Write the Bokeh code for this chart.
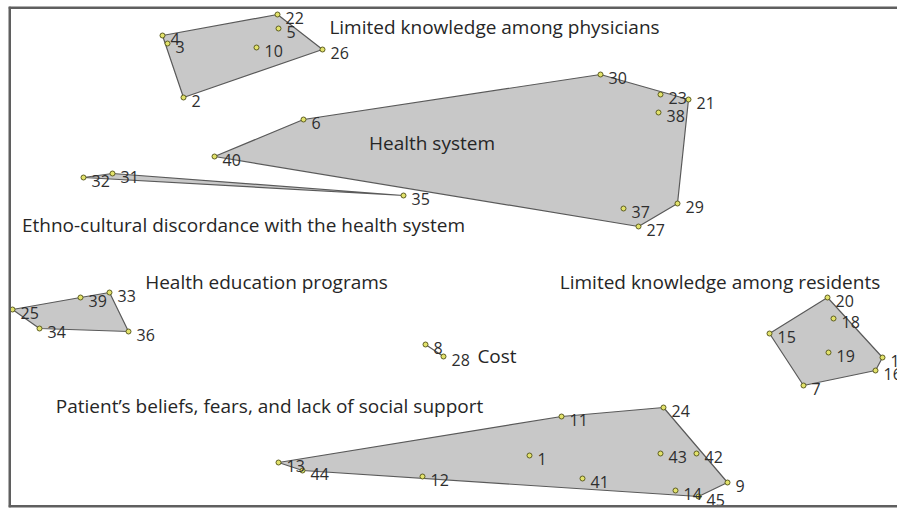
from bokeh.plotting import figure
from bokeh.models import ColumnDataSource, Span, Range1d
from bokeh.core.properties import value
from bokeh.embed import file_html
from bokeh.resources import INLINE

# ---- data: statement ids, map coordinates, cluster membership ----
ids = list(range(1, 46))
xs = [521, 175, 159, 154, 270, 295, 795, 417, 719, 248,
      553, 414, 270, 667, 761, 867, 874, 825, 820, 819,
      680, 269, 652, 655, 4, 314, 630, 435, 669, 592,
      104, 75, 101, 31, 395, 120, 615, 650, 72, 206,
      574, 688, 652, 294, 690]
ys = [53, 411, 465, 473, 480, 389, 123, 164, 26, 461,
      92, 32, 46, 18, 175, 138, 151, 190, 156, 211,
      409, 494, 414, 101, 199, 459, 282, 152, 305, 434,
      335, 331, 216, 180, 313, 177, 300, 396, 211, 352,
      30, 55, 55, 38, 12]

cluster_names = [
    "Limited knowledge among physicians",
    "Health system",
    "Ethno-cultural discordance with the health system",
    "Health education programs",
    "Limited knowledge among residents",
    "Cost",
    "Patient\u2019s beliefs, fears, and lack of social support",
]
cluster_members = [
    [2, 3, 4, 5, 10, 22, 26],
    [6, 21, 23, 27, 29, 30, 37, 38, 40],
    [31, 32, 35],
    [25, 33, 34, 36, 39],
    [7, 15, 16, 17, 18, 19, 20],
    [8, 28],
    [1, 9, 11, 12, 13, 14, 24, 41, 42, 43, 44, 45],
]
# cluster label anchors (centre of the text)
label_x = [486, 423.5, 235, 258, 711.5, 488.5, 261]
label_y = [482, 366, 284, 227, 227, 153, 103]


def hull(pts):
    pts = sorted(set(pts))
    if len(pts) <= 2:
        return pts

    def cross(o, a, b):
        return (a[0] - o[0]) * (b[1] - o[1]) - (a[1] - o[1]) * (b[0] - o[0])

    lower = []
    for p_ in pts:
        while len(lower) >= 2 and cross(lower[-2], lower[-1], p_) <= 0:
            lower.pop()
        lower.append(p_)
    upper = []
    for p_ in reversed(pts):
        while len(upper) >= 2 and cross(upper[-2], upper[-1], p_) <= 0:
            upper.pop()
        upper.append(p_)
    return lower[:-1] + upper[:-1]


px_list, py_list = [], []
for members in cluster_members:
    h = hull([(xs[m - 1], ys[m - 1]) for m in members])
    px_list.append([q[0] for q in h])
    py_list.append([q[1] for q in h])

p = figure(width=897, height=509, output_backend="svg", toolbar_location=None,
           x_range=Range1d(0, 889), y_range=Range1d(1, 502),
           min_border_left=8, min_border_top=6, min_border_bottom=2,
           min_border_right=0)
p.axis.visible = False
p.grid.visible = False
p.outline_line_color = None
p.background_fill_color = "white"
p.border_fill_color = "white"

p.patches(px_list, py_list, fill_color="#c8c8c8", fill_alpha=1.0,
          line_color="#5a5a5a", line_width=1.2)

src = ColumnDataSource(dict(x=xs, y=ys, lab=[str(i) for i in ids]))
p.scatter("x", "y", source=src, size=5, fill_color="#e2e26a",
          line_color="#5e5e22", line_width=1)
p.text("x", "y", text="lab", source=src, x_offset=8, y_offset=3,
       text_align="left", text_baseline="middle",
       text_font=value("Open Sans"), text_font_size="16px", text_color="#2e2e2e")

lsrc = ColumnDataSource(dict(x=label_x, y=label_y, t=cluster_names))
p.text("x", "y", text="t", source=lsrc, text_align="center",
       text_baseline="middle", text_font=value("Open Sans"),
       text_font_size="19px", text_color="#262626")

xr, yr = p.x_range, p.y_range
for loc, dim in [(xr.start, "height"), (yr.start, "width"), (yr.end, "width")]:
    p.add_layout(Span(location=loc, dimension=dim, line_color="#5f5f5f",
                      line_width=5))

open("out.html", "w").write(file_html(p, INLINE))
